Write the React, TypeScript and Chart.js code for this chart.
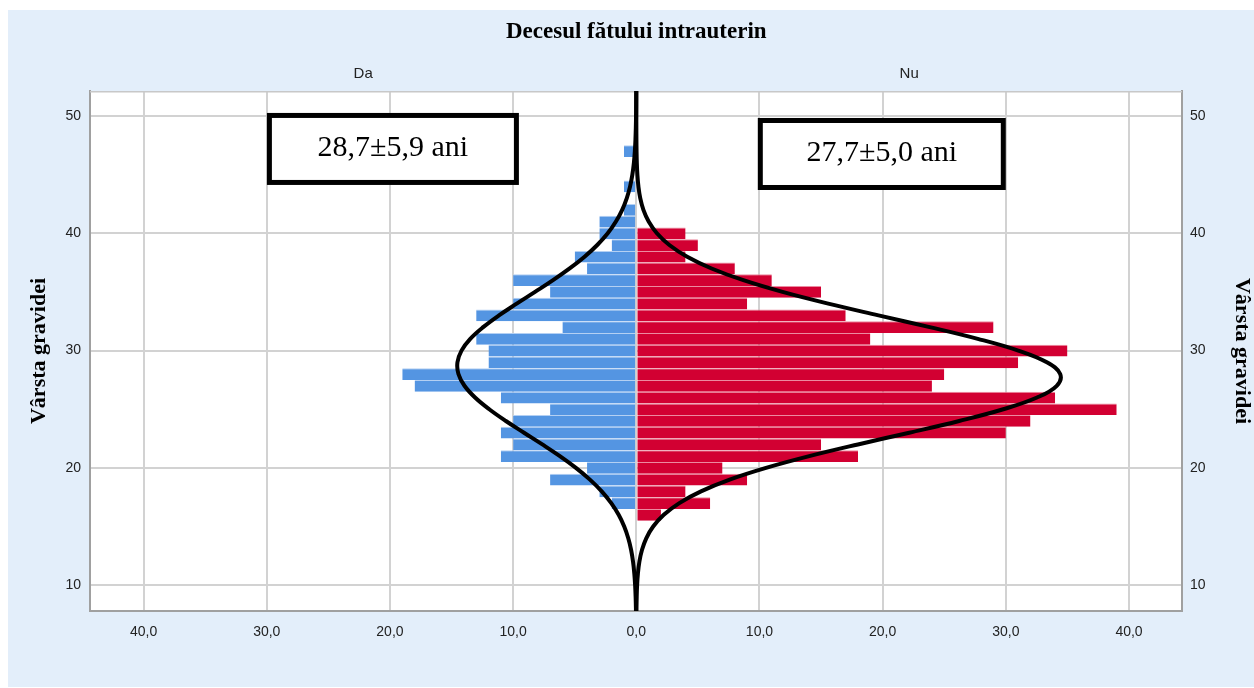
import React, { useEffect, useRef } from 'react';
import { Chart, registerables } from 'chart.js';

Chart.register(...registerables);

// ---- data ----
const ages = [16, 17, 18, 19, 20, 21, 22, 23, 24, 25, 26, 27, 28, 29, 30, 31, 32, 33, 34, 35, 36, 37, 38, 39, 40, 41, 42, 43, 44, 45, 46, 47];
const daCounts = [0, 2, 3, 7, 4, 11, 10, 11, 10, 7, 11, 18, 19, 12, 12, 13, 6, 13, 10, 7, 10, 4, 5, 2, 3, 3, 1, 0, 1, 0, 0, 1];
const nuCounts = [2, 6, 4, 9, 7, 18, 15, 30, 32, 39, 34, 24, 25, 31, 35, 19, 29, 17, 9, 15, 11, 8, 4, 5, 4, 0, 0, 0, 0, 0, 0, 0];

const curveAges = [7, 8, 9, 10, 11, 12, 13, 14, 15, 16, 17, 18, 19, 20, 21, 22, 23, 24, 25, 26, 27, 28, 29, 30, 31, 32, 33, 34, 35, 36, 37, 38, 39, 40, 41, 42, 43, 44, 45, 46, 47, 48, 49, 50, 51, 52, 53];
const daCurve = [0.017, 0.031, 0.055, 0.096, 0.162, 0.265, 0.421, 0.653, 0.981, 1.433, 2.035, 2.808, 3.764, 4.903, 6.204, 7.63, 9.118, 10.59, 11.94, 13.09, 13.95, 14.44, 14.52, 14.19, 13.48, 12.43, 11.15, 9.71, 8.22, 6.76, 5.41, 4.2, 3.17, 2.32, 1.655, 1.146, 0.771, 0.504, 0.32, 0.197, 0.118, 0.069, 0.039, 0.021, 0.011, 0.006, 0.003];
const nuCurve = [0.007, 0.015, 0.032, 0.065, 0.13, 0.249, 0.458, 0.807, 1.369, 2.23, 3.49, 5.25, 7.58, 10.53, 14.04, 17.99, 22.16, 26.21, 29.79, 32.53, 34.13, 34.41, 33.33, 31.01, 27.72, 23.82, 19.66, 15.58, 11.87, 8.69, 6.11, 4.13, 2.68, 1.67, 1.003, 0.577, 0.319, 0.17, 0.087, 0.042, 0.02, 0.009, 0.004, 0.002, 0.001, 0.0004, 0.0002];

const groupLabels = ['Da', 'Nu'];
const summaryLabels = ['28,7±5,9 ani', '27,7±5,0 ani'];
const chartTitle = 'Decesul fătului intrauterin';
const axisTitle = 'Vârsta gravidei';
const xTickStep = 10;
const yTickStep = 10;

const BLUE = '#5495E2';
const BLUE_SEP = '#B4D0F3';
const RED = '#D20032';
const RED_SEP = '#EC8AA0';
const PANEL = '#E3EEFA';
const SANS = "'Liberation Sans', Arial, sans-serif";
const SERIF = "'Liberation Serif', 'Times New Roman', serif";

const decorPlugin = {
  id: 'decor',
  beforeDraw(chart: any) {
    const { ctx, chartArea: a, width, height } = chart;
    ctx.save();
    ctx.fillStyle = '#ffffff';
    ctx.fillRect(0, 0, width, height);
    ctx.fillStyle = PANEL;
    ctx.fillRect(8, 10, width - 8, height - 11);
    ctx.fillStyle = '#ffffff';
    ctx.fillRect(a.left, a.top, a.right - a.left, a.bottom - a.top);
    ctx.restore();
  },
  beforeDatasetsDraw(chart: any) {
    const { ctx, chartArea: a } = chart;
    ctx.save();
    ctx.strokeStyle = '#c8c8c8';
    ctx.lineWidth = 1.5;
    ctx.beginPath();
    ctx.moveTo(a.left, a.top + 0.75);
    ctx.lineTo(a.right, a.top + 0.75);
    ctx.stroke();
    ctx.restore();
  },
  afterDatasetsDraw(chart: any) {
    const { ctx, scales } = chart;
    const xs = scales.x;
    const ys = scales.y;
    const boxes = [
      { cx: -19.76, cy: 47.19, w: 252, h: 72, text: summaryLabels[0] },
      { cx: 19.93, cy: 46.76, w: 248, h: 72, text: summaryLabels[1] },
    ];
    ctx.save();
    for (const b of boxes) {
      const px = xs.getPixelForValue(b.cx);
      const py = ys.getPixelForValue(b.cy);
      const l = px - b.w / 2;
      const t = py - b.h / 2;
      ctx.fillStyle = '#ffffff';
      ctx.fillRect(l, t, b.w, b.h);
      ctx.strokeStyle = '#000000';
      ctx.lineWidth = 5;
      ctx.strokeRect(l + 2.5, t + 2.5, b.w - 5, b.h - 5);
      ctx.fillStyle = '#000000';
      ctx.font = `30px ${SERIF}`;
      ctx.textAlign = 'center';
      ctx.textBaseline = 'middle';
      ctx.fillText(b.text, px, py - 1);
    }
    ctx.restore();
  },
  afterDraw(chart: any) {
    const { ctx, chartArea: a, scales } = chart;
    const zero = scales.x.getPixelForValue(0);
    const midY = (a.top + a.bottom) / 2;
    ctx.save();
    ctx.fillStyle = '#000000';
    ctx.textAlign = 'center';
    ctx.textBaseline = 'middle';
    ctx.font = `bold 23px ${SERIF}`;
    ctx.fillText(chartTitle, zero, 32);
    ctx.font = `15px ${SANS}`;
    ctx.fillStyle = '#222222';
    ctx.fillText(groupLabels[0], (a.left + zero) / 2, 74);
    ctx.fillText(groupLabels[1], (a.right + zero) / 2, 74);
    ctx.fillStyle = '#000000';
    ctx.font = `bold 22px ${SERIF}`;
    ctx.save();
    ctx.translate(39, midY);
    ctx.rotate(-Math.PI / 2);
    ctx.fillText(axisTitle, 0, 0);
    ctx.restore();
    ctx.save();
    ctx.translate(1242, midY);
    ctx.rotate(Math.PI / 2);
    ctx.fillText(axisTitle, 0, 0);
    ctx.restore();
    ctx.restore();
  },
};

const fmtX = (v: number) => Math.abs(v).toFixed(1).replace('.', ',');

export default function App() {
  const ref = useRef<HTMLCanvasElement | null>(null);

  useEffect(() => {
    if (!ref.current) return;
    const daBars = ages
      .map((a, i) => ({ x: -daCounts[i], y: a }))
      .filter((p) => p.x !== 0);
    const nuBars = ages
      .map((a, i) => ({ x: nuCounts[i], y: a }))
      .filter((p) => p.x !== 0);
    const daLine = curveAges.map((a, i) => ({ x: -daCurve[i], y: a }));
    const nuLine = curveAges.map((a, i) => ({ x: nuCurve[i], y: a }));

    const barCommon = {
      type: 'bar',
      borderWidth: { top: 1, right: 0, bottom: 0, left: 0 },
      borderSkipped: false,
      inflateAmount: 0,
      barPercentage: 1,
      categoryPercentage: 1,
      grouped: false,
      order: 2,
    };
    const lineCommon = {
      type: 'line',
      borderColor: '#000000',
      borderWidth: 4,
      pointRadius: 0,
      tension: 0.4,
      fill: false,
      clip: 0,
      order: 1,
      indexAxis: 'y',
    };

    const chart = new Chart(ref.current, {
      type: 'bar',
      data: {
        datasets: [
          { ...barCommon, label: groupLabels[0], data: daBars, backgroundColor: BLUE, borderColor: BLUE_SEP } as any,
          { ...barCommon, label: groupLabels[1], data: nuBars, backgroundColor: RED, borderColor: RED_SEP } as any,
          { ...lineCommon, label: 'Normal Da', data: daLine } as any,
          { ...lineCommon, label: 'Normal Nu', data: nuLine } as any,
        ],
      },
      options: {
        indexAxis: 'y',
        animation: false,
        responsive: false,
        maintainAspectRatio: false,
        layout: { padding: { top: 91, left: 0, right: 0, bottom: 0 } },
        plugins: {
          legend: { display: false },
          tooltip: { enabled: false },
          title: { display: false },
        },
        scales: {
          x: {
            type: 'linear',
            position: 'bottom',
            min: -44.35,
            max: 44.3,
            offset: false,
            ticks: {
              stepSize: xTickStep,
              includeBounds: false,
              callback: (v: any) => fmtX(Number(v)),
              color: '#222222',
              font: { family: SANS, size: 14 },
              padding: 13,
              maxRotation: 0,
              autoSkip: false,
            },
            grid: { color: '#d2d2d2', lineWidth: 2, drawTicks: false, offset: false },
            border: { color: '#a0a0a0', width: 2 },
            afterFit: (s: any) => {
              s.height = 77;
            },
          },
          y: {
            type: 'linear',
            position: 'left',
            min: 7.8,
            max: 52.13,
            offset: false,
            ticks: {
              stepSize: yTickStep,
              includeBounds: false,
              color: '#222222',
              font: { family: SANS, size: 14 },
              padding: 9,
              autoSkip: false,
            },
            grid: { color: '#d2d2d2', lineWidth: 2, drawTicks: false, offset: false },
            border: { color: '#a0a0a0', width: 2 },
            afterFit: (s: any) => {
              s.width = 90;
            },
          },
          yR: {
            type: 'linear',
            position: 'right',
            min: 7.8,
            max: 52.13,
            offset: false,
            ticks: {
              stepSize: yTickStep,
              includeBounds: false,
              color: '#222222',
              font: { family: SANS, size: 14 },
              padding: 8,
              autoSkip: false,
            },
            grid: { display: false, drawTicks: false, offset: false },
            border: { color: '#a0a0a0', width: 2 },
            afterFit: (s: any) => {
              s.width = 72;
            },
          },
        },
      } as any,
      plugins: [decorPlugin],
    });
    return () => chart.destroy();
  }, []);

  return (
    <div style={{ position: 'absolute', left: 0, top: 0, width: 1254, height: 688 }}>
      <canvas ref={ref} width={1254} height={688} style={{ display: 'block', width: 1254, height: 688 }} />
    </div>
  );
}
